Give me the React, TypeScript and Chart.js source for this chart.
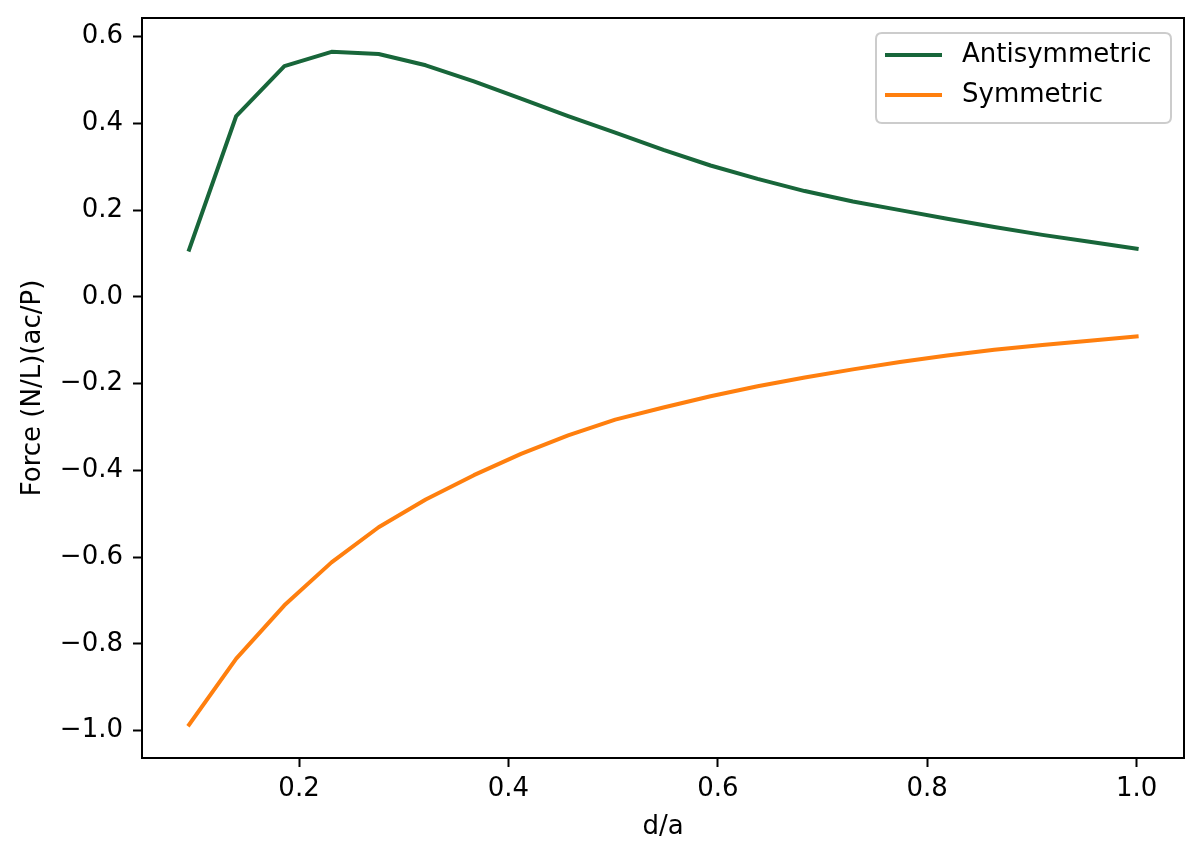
import React, { useEffect, useRef } from "react";
import { Chart, registerables } from "chart.js";

Chart.register(...registerables);

const X_VALUES = [
  0.095, 0.14, 0.186, 0.231, 0.276, 0.321, 0.367, 0.412, 0.457, 0.502, 0.548,
  0.593, 0.638, 0.683, 0.729, 0.774, 0.819, 0.864, 0.91, 0.955, 1.0,
];
const ANTISYMMETRIC = [
  0.109, 0.417, 0.532, 0.565, 0.56, 0.534, 0.497, 0.457, 0.417, 0.379, 0.339,
  0.303, 0.272, 0.244, 0.22, 0.2, 0.18, 0.161, 0.143, 0.127, 0.111,
];
const SYMMETRIC = [
  -0.986, -0.834, -0.711, -0.612, -0.531, -0.467, -0.411, -0.362, -0.319,
  -0.283, -0.255, -0.229, -0.206, -0.186, -0.167, -0.15, -0.135, -0.122,
  -0.111, -0.101, -0.091,
];
const SERIES_LABELS = ["Antisymmetric", "Symmetric"];
const X_TICKS = [0.2, 0.4, 0.6, 0.8, 1.0];
const Y_TICKS = [-1.0, -0.8, -0.6, -0.4, -0.2, 0.0, 0.2, 0.4, 0.6];
const X_TITLE = "d/a";
const Y_TITLE = "Force (N/L)(ac/P)";

const FONT = "DejaVu Sans";
const GREEN = "#18663a";
const ORANGE = "#ff7f0e";

const fmt = (v: number) => (v < 0 ? "\u2212" : "") + Math.abs(v).toFixed(1);

const framePlugin = {
  id: "frame",
  afterDatasetsDraw(chart: any) {
    const { ctx, chartArea } = chart;
    ctx.save();
    ctx.strokeStyle = "#000";
    ctx.lineWidth = 2;
    ctx.strokeRect(
      chartArea.left,
      chartArea.top,
      chartArea.right - chartArea.left,
      chartArea.bottom - chartArea.top
    );
    ctx.restore();
  },
};

const legendPlugin = {
  id: "mplLegend",
  afterDraw(chart: any) {
    const { ctx, chartArea } = chart;
    const right = chartArea.right - 13;
    const top = chartArea.top + 15;
    const width = 295;
    const height = 90;
    const left = right - width;
    const r = 6;
    ctx.save();
    ctx.beginPath();
    ctx.moveTo(left + r, top);
    ctx.lineTo(right - r, top);
    ctx.quadraticCurveTo(right, top, right, top + r);
    ctx.lineTo(right, top + height - r);
    ctx.quadraticCurveTo(right, top + height, right - r, top + height);
    ctx.lineTo(left + r, top + height);
    ctx.quadraticCurveTo(left, top + height, left, top + height - r);
    ctx.lineTo(left, top + r);
    ctx.quadraticCurveTo(left, top, left + r, top);
    ctx.closePath();
    ctx.fillStyle = "rgba(255,255,255,0.8)";
    ctx.fill();
    ctx.strokeStyle = "#cccccc";
    ctx.lineWidth = 2;
    ctx.stroke();
    chart.data.datasets.forEach((ds: any, i: number) => {
      const y = top + 22 + i * 40;
      ctx.beginPath();
      ctx.moveTo(left + 9, y);
      ctx.lineTo(left + 66, y);
      ctx.strokeStyle = ds.borderColor;
      ctx.lineWidth = 4;
      ctx.lineCap = "butt";
      ctx.stroke();
      ctx.fillStyle = "#000";
      ctx.font = `26px "${FONT}"`;
      ctx.textBaseline = "middle";
      ctx.textAlign = "left";
      ctx.fillText(ds.label, left + 86, y);
    });
    ctx.restore();
  },
};

export default function App() {
  const ref = useRef<HTMLCanvasElement>(null);
  useEffect(() => {
    if (!ref.current) return;
    const chart = new Chart(ref.current, {
      type: "line",
      data: {
        datasets: [
          {
            label: SERIES_LABELS[0],
            data: X_VALUES.map((x, i) => ({ x, y: ANTISYMMETRIC[i] })),
            borderColor: GREEN,
            backgroundColor: GREEN,
            borderWidth: 4,
            pointRadius: 0,
            tension: 0,
            borderJoinStyle: "round",
            borderCapStyle: "square",
          },
          {
            label: SERIES_LABELS[1],
            data: X_VALUES.map((x, i) => ({ x, y: SYMMETRIC[i] })),
            borderColor: ORANGE,
            backgroundColor: ORANGE,
            borderWidth: 4,
            pointRadius: 0,
            tension: 0,
            borderJoinStyle: "round",
            borderCapStyle: "square",
          },
        ],
      },
      options: {
        responsive: false,
        animation: false,
        devicePixelRatio: 1,
        layout: { padding: { top: 18, right: 18, left: 0, bottom: 0 } },
        plugins: {
          legend: { display: false },
          tooltip: { enabled: false },
        },
        scales: {
          x: {
            type: "linear",
            min: 0.05,
            max: 1.04525,
            afterFit: (s: any) => {
              s.height = 103;
              s.paddingLeft = 0;
              s.paddingRight = 0;
            },
            afterBuildTicks: (s: any) => {
              s.ticks = X_TICKS.map((v) => ({ value: v }));
            },
            grid: {
              display: true,
              drawOnChartArea: false,
              drawTicks: true,
              tickLength: 9,
              tickWidth: 2,
              tickColor: "#000",
            },
            border: { display: false },
            ticks: {
              color: "#000",
              font: { family: FONT, size: 26, lineHeight: 1 },
              padding: 9,
              maxRotation: 0,
              autoSkip: false,
              callback: (v: any) => fmt(Number(v)),
            },
            title: {
              display: true,
              text: X_TITLE,
              color: "#000",
              font: { family: FONT, size: 26, lineHeight: 1 },
              padding: { top: 0, bottom: 21 },
            },
          },
          y: {
            type: "linear",
            min: -1.063,
            max: 0.643,
            afterFit: (s: any) => {
              s.width = 142;
              s.paddingTop = 0;
              s.paddingBottom = 0;
            },
            afterBuildTicks: (s: any) => {
              s.ticks = Y_TICKS.map((v) => ({ value: v }));
            },
            grid: {
              display: true,
              drawOnChartArea: false,
              drawTicks: true,
              tickLength: 9,
              tickWidth: 2,
              tickColor: "#000",
            },
            border: { display: false },
            ticks: {
              color: "#000",
              font: { family: FONT, size: 26, lineHeight: 1 },
              padding: 10,
              autoSkip: false,
              callback: (v: any) => fmt(Number(v)),
            },
            title: {
              display: true,
              text: Y_TITLE,
              color: "#000",
              font: { family: FONT, size: 26, lineHeight: 1 },
              padding: { top: 20, bottom: 0 },
            },
          },
        },
      },
      plugins: [framePlugin, legendPlugin],
    } as any);
    return () => chart.destroy();
  }, []);
  return (
    <div
      style={{
        position: "fixed",
        left: 0,
        top: 0,
        width: 1202,
        height: 861,
        background: "#fff",
      }}
    >
      <canvas ref={ref} width={1202} height={861} style={{ width: 1202, height: 861 }} />
    </div>
  );
}
